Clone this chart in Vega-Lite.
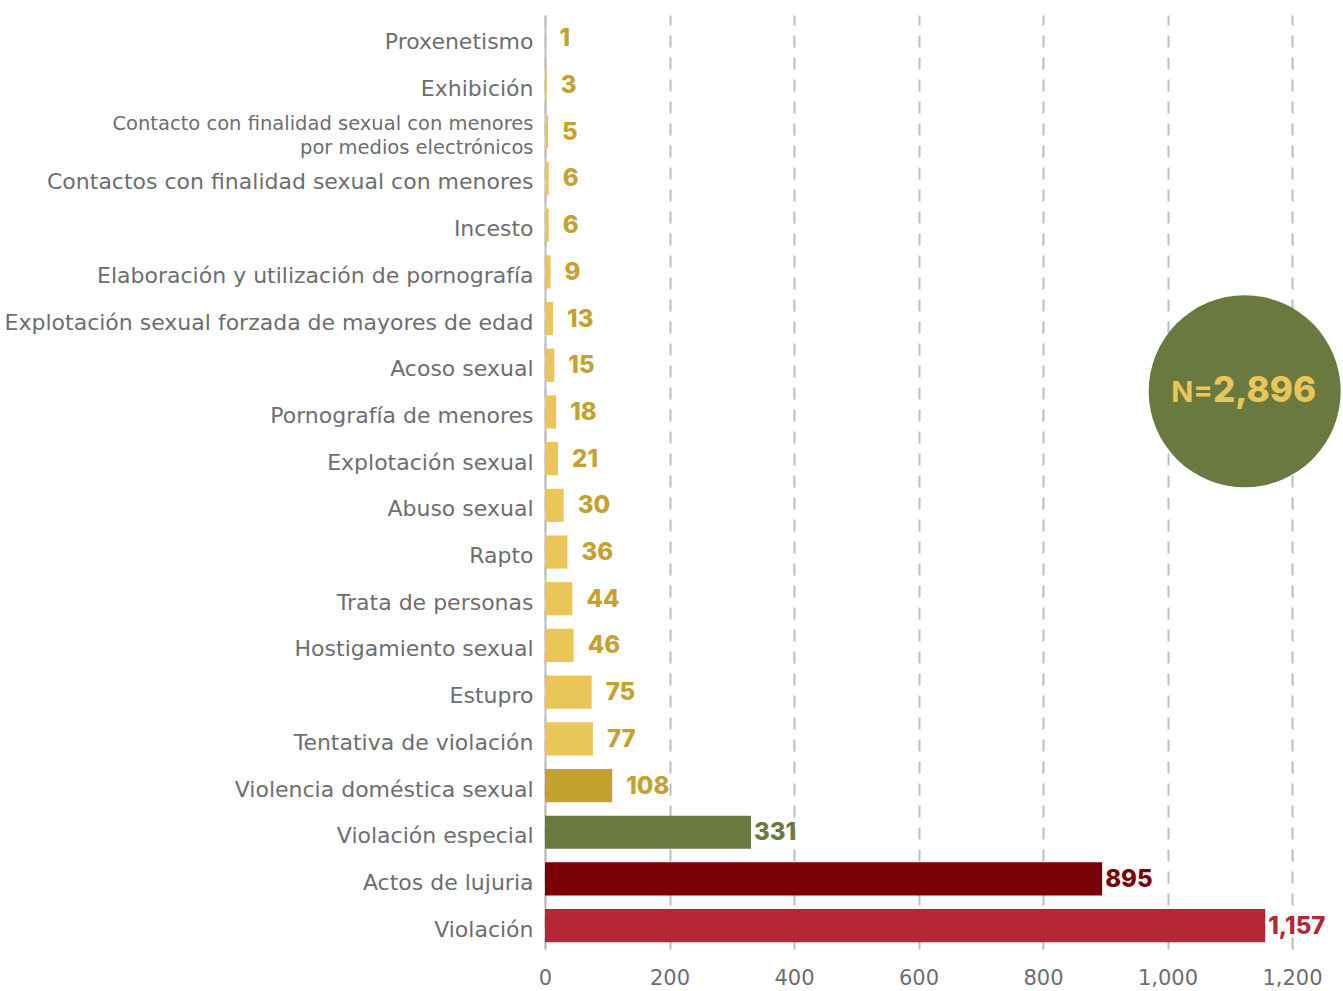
{
  "$schema": "https://vega.github.io/schema/vega-lite/v6.json",
  "autosize": {"type": "none"},
  "padding": {"left": 545, "top": 15, "right": 51, "bottom": 42},
  "width": 747,
  "height": 934,
  "background": "white",
  "config": {
    "view": {"stroke": null},
    "font": "Inter"
  },
  "datasets": {
    "delitos": [
      {"delito": "Proxenetismo", "casos": 1},
      {"delito": "Exhibición", "casos": 3},
      {"delito": "Contacto con finalidad sexual con menores por medios electrónicos", "casos": 5},
      {"delito": "Contactos con finalidad sexual con menores", "casos": 6},
      {"delito": "Incesto", "casos": 6},
      {"delito": "Elaboración y utilización de pornografía", "casos": 9},
      {"delito": "Explotación sexual forzada de mayores de edad", "casos": 13},
      {"delito": "Acoso sexual", "casos": 15},
      {"delito": "Pornografía de menores", "casos": 18},
      {"delito": "Explotación sexual", "casos": 21},
      {"delito": "Abuso sexual", "casos": 30},
      {"delito": "Rapto", "casos": 36},
      {"delito": "Trata de personas", "casos": 44},
      {"delito": "Hostigamiento sexual", "casos": 46},
      {"delito": "Estupro", "casos": 75},
      {"delito": "Tentativa de violación", "casos": 77},
      {"delito": "Violencia doméstica sexual", "casos": 108},
      {"delito": "Violación especial", "casos": 331},
      {"delito": "Actos de lujuria", "casos": 895},
      {"delito": "Violación", "casos": 1157}
    ],
    "total": [
      {"x": 1124, "delito": "Acoso sexual", "etiqueta": "N=", "total": "2,896", "xt": 1073}
    ]
  },
  "layer": [
    {
      "data": {"name": "delitos"},
      "mark": {"type": "bar"},
      "encoding": {
        "y": {
          "field": "delito",
          "type": "nominal",
          "sort": null,
          "scale": {"paddingInner": 0.29, "paddingOuter": 0.145},
          "axis": {
            "title": null,
            "ticks": false,
            "domain": true,
            "domainColor": "#bdbdbd",
            "domainWidth": 2,
            "labelFont": "DejaVu Sans",
            "labelColor": "#6d6e71",
            "labelFontSize": {"condition": {"test": "datum.value == 'Contacto con finalidad sexual con menores por medios electrónicos'", "value": 19.5}, "value": 22},
            "labelOffset": {"condition": {"test": "datum.value == 'Contacto con finalidad sexual con menores por medios electrónicos'", "value": -8}, "value": 4},
            "labelLineHeight": 24,
            "labelPadding": 12,
            "labelLimit": 600,
            "labelExpr": "datum.value == 'Contacto con finalidad sexual con menores por medios electrónicos' ? ['Contacto con finalidad sexual con menores', 'por medios electrónicos'] : datum.label"
          }
        },
        "x": {
          "field": "casos",
          "type": "quantitative",
          "scale": {"domain": [0, 1200], "nice": false},
          "axis": {
            "title": null,
            "values": [0, 200, 400, 600, 800, 1000, 1200],
            "labelExpr": "format(datum.value, ',.0f')",
            "labelFlush": false,
            "ticks": false,
            "domain": false,
            "grid": true,
            "gridColor": "#bdbdbd",
            "gridWidth": 2,
            "gridDash": [12, 10],
            "labelFont": "DejaVu Sans",
            "labelFontSize": 21,
            "labelColor": "#6d6e71",
            "labelPadding": 18
          }
        },
        "color": {
          "field": "delito",
          "type": "nominal",
          "legend": null,
          "scale": {
            "domain": ["Proxenetismo", "Exhibición", "Contacto con finalidad sexual con menores por medios electrónicos", "Contactos con finalidad sexual con menores", "Incesto", "Elaboración y utilización de pornografía", "Explotación sexual forzada de mayores de edad", "Acoso sexual", "Pornografía de menores", "Explotación sexual", "Abuso sexual", "Rapto", "Trata de personas", "Hostigamiento sexual", "Estupro", "Tentativa de violación", "Violencia doméstica sexual", "Violación especial", "Actos de lujuria", "Violación"],
            "range": ["#EAC558", "#EAC558", "#EAC558", "#EAC558", "#EAC558", "#EAC558", "#EAC558", "#EAC558", "#EAC558", "#EAC558", "#EAC558", "#EAC558", "#EAC558", "#EAC558", "#EAC558", "#EAC558", "#C5A22F", "#6A7940", "#7A0006", "#B52735"]
          }
        }
      }
    },
    {
      "data": {"name": "delitos"},
      "transform": [{"filter": "datum.casos < 300"}],
      "mark": {"type": "text", "align": "left", "baseline": "middle", "dx": 14, "dy": 1, "fontSize": 24, "fontWeight": 800, "font": "Inter", "color": "#C5A22F"},
      "encoding": {
        "y": {"field": "delito", "type": "nominal", "sort": null},
        "x": {"field": "casos", "type": "quantitative"},
        "text": {"field": "casos", "type": "quantitative", "format": ","}
      }
    },
    {
      "data": {"name": "delitos"},
      "transform": [{"filter": "datum.casos >= 300"}],
      "mark": {"type": "text", "align": "left", "baseline": "middle", "dx": 3, "dy": 1, "fontSize": 24, "fontWeight": 800, "font": "Inter"},
      "encoding": {
        "y": {"field": "delito", "type": "nominal", "sort": null},
        "x": {"field": "casos", "type": "quantitative"},
        "text": {"field": "casos", "type": "quantitative", "format": ","},
        "color": {
          "field": "delito",
          "type": "nominal",
          "legend": null,
          "scale": {
            "domain": ["Violación especial", "Actos de lujuria", "Violación"],
            "range": ["#6A7940", "#7A0006", "#B52735"]
          }
        }
      }
    },
    {
      "data": {"name": "total"},
      "mark": {"type": "point", "shape": "circle", "filled": true, "opacity": 1, "color": "#6A7940", "size": 36864, "yOffset": 26},
      "encoding": {
        "y": {"field": "delito", "type": "nominal", "sort": null},
        "x": {"field": "x", "type": "quantitative"}
      }
    },
    {
      "data": {"name": "total"},
      "mark": {"type": "text", "align": "right", "baseline": "middle", "yOffset": 28, "fontSize": 29, "fontWeight": 700, "font": "Inter", "color": "#EAC558"},
      "encoding": {
        "y": {"field": "delito", "type": "nominal", "sort": null},
        "x": {"field": "xt", "type": "quantitative"},
        "text": {"field": "etiqueta"}
      }
    },
    {
      "data": {"name": "total"},
      "mark": {"type": "text", "align": "left", "baseline": "middle", "yOffset": 26, "fontSize": 35, "fontWeight": 800, "font": "Inter", "color": "#EAC558"},
      "encoding": {
        "y": {"field": "delito", "type": "nominal", "sort": null},
        "x": {"field": "xt", "type": "quantitative"},
        "text": {"field": "total"}
      }
    }
  ],
  "resolve": {"scale": {"color": "independent"}}
}
